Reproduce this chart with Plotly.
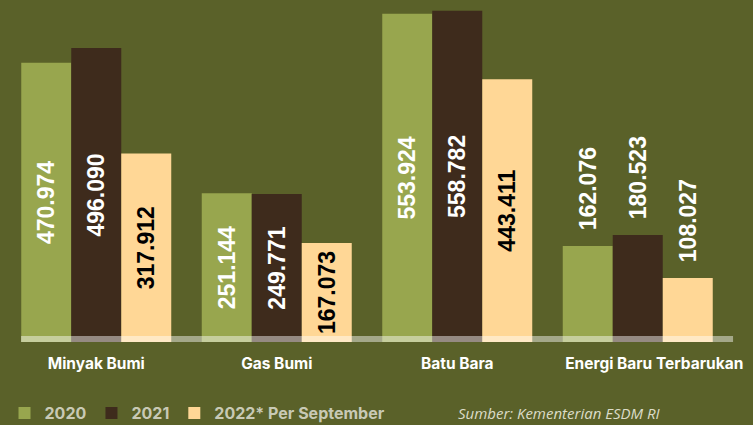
"""
Produksi energi primer Indonesia per jenis, 2020-2022
"""

import plotly.graph_objects as go

# Data
categories = ["Minyak Bumi", "Gas Bumi", "Batu Bara", "Energi Baru Terbarukan"]
series_names = ["2020", "2021", "2022* Per September"]
values_2020 = [470974, 251144, 553924, 162076]
values_2021 = [496090, 249771, 558782, 180523]
values_2022 = [317912, 167073, 443411, 108027]
source_text = "Sumber: Kementerian ESDM RI"

BG = "#5a6129"
COLORS = ["#98a64e", "#3e2b1c", "#ffd796"]
INSIDE_TEXT = ["white", "white", "black"]
TEXT_POS = ["inside", "inside", "inside", "outside"]


def fmt(v, pos):
    # Indonesian thousands separator; labels above bars sit a little higher
    s = f"{v:,}".replace(",", ".")
    return "\u00a0\u00a0" + s if pos == "outside" else s


# last category label sits a bit to the right in the original
tick_text = categories[:-1] + ["\u00a0" * 9 + categories[-1]]

fig = go.Figure()

for name, vals, color, txtcolor in zip(series_names,
                                       [values_2020, values_2021, values_2022],
                                       COLORS, INSIDE_TEXT):
    fig.add_trace(go.Bar(
        x=categories,
        y=vals,
        name=name,
        marker=dict(color=color, line=dict(width=0)),
        text=[fmt(v, p) for v, p in zip(vals, TEXT_POS)],
        textposition=TEXT_POS,
        insidetextanchor="middle",
        textangle=-90,
        constraintext="none",
        insidetextfont=dict(family="Liberation Sans", size=23, color=txtcolor, weight="bold"),
        outsidetextfont=dict(family="Liberation Sans", size=23, color="white", weight="bold"),
        cliponaxis=False,
        hoverinfo="skip",
    ))

# translucent base band
fig.add_shape(
    type="rect", xref="paper", yref="y",
    x0=0.0208, x1=1.007, y0=0, y1=10000,
    fillcolor="rgba(255,255,255,0.45)", line=dict(width=0), layer="above",
)

fig.add_annotation(
    text=source_text, xref="paper", yref="paper",
    x=0.6233, y=-0.2076, xanchor="left", yanchor="middle", showarrow=False,
    font=dict(family="Open Sans", size=15, color="#dcdcc8", style="italic"),
)

fig.update_layout(
    width=753, height=425,
    paper_bgcolor=BG, plot_bgcolor=BG,
    margin=dict(l=6, r=25, t=0, b=83, autoexpand=False),
    barmode="group", bargap=0.169, bargroupgap=0,
    showlegend=True,
    legend=dict(
        orientation="h", xref="container", yref="container",
        x=0.006, y=0.028, xanchor="left", yanchor="middle",
        font=dict(family="Inter", size=16, color="#c8c9b5", weight="bold"),
        bgcolor="rgba(0,0,0,0)", traceorder="normal",
    ),
)
fig.update_xaxes(
    showgrid=False, zeroline=False, showline=False, ticks="",
    tickmode="array", tickvals=categories, ticktext=tick_text,
    tickfont=dict(family="Inter", size=15.5, color="white", weight="bold"),
    ticklabelstandoff=10, automargin=False,
)
fig.update_yaxes(
    range=[0, 577000], visible=False, showgrid=False, zeroline=False,
    automargin=False,
)

# drop the default page margin so the figure fills the window
fig.write_html(
    "out.html",
    config={"displayModeBar": False},
    post_script="document.body.style.margin='0';",
)
